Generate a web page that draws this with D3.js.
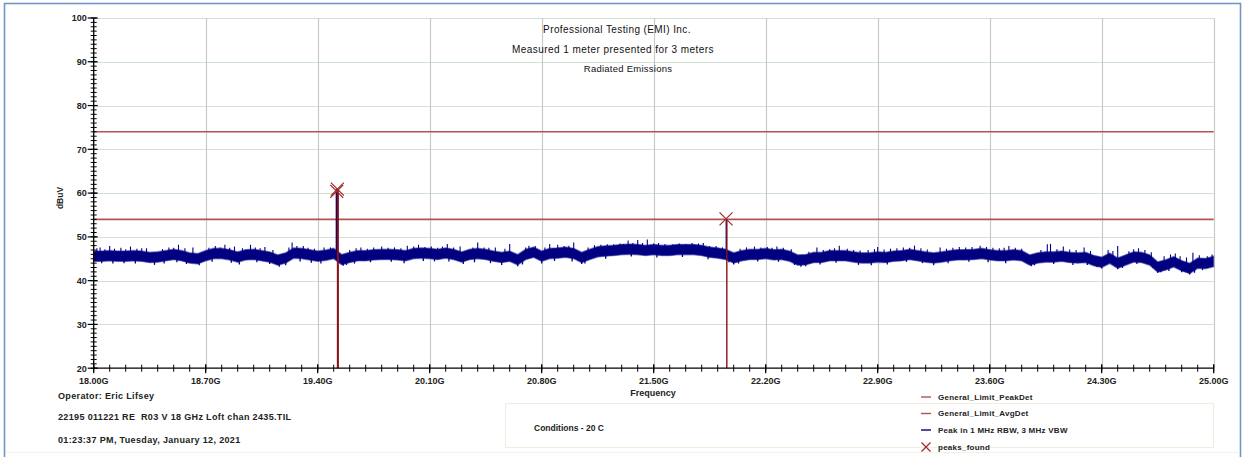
<!DOCTYPE html>
<html>
<head>
<meta charset="utf-8">
<script src="https://cdn.jsdelivr.net/npm/d3@7"></script>
<style>
  html, body { margin: 0; padding: 0; background: #ffffff; }
  svg { display: block; font-family: "Liberation Sans", Arial, sans-serif; }
</style>
</head>
<body>
<svg id="chart" width="1246" height="457"></svg>
<script>
// ---- Sweep data (dBuV) ----
const sweepStartGHz = 18.0;
const sweepStepGHz = 0.05;
// mean level of the measured trace every 50 MHz, 18.00 .. 25.00 GHz
const traceLevel = [
  45.6,45.6,45.7,45.6,45.6,45.7,45.6,45.3,45.4,45.7,46.0,45.7,45.2,45.0,45.7,46.2,46.2,45.9,45.4,45.9,
  46.0,45.7,45.4,44.7,45.2,46.3,46.2,45.9,45.6,45.8,46.2,44.8,45.3,45.7,45.7,45.9,46.0,46.0,45.9,45.7,
  46.2,46.3,46.2,46.0,46.3,46.0,45.4,46.0,46.2,46.0,45.6,45.3,45.6,44.8,46.0,46.5,45.6,46.2,46.3,46.5,
  46.2,45.3,46.0,46.6,46.8,46.9,47.1,47.2,47.1,46.9,47.1,46.9,46.9,47.1,47.1,47.1,46.9,46.5,46.3,46.0,
  45.2,45.7,46.0,46.0,46.2,45.9,46.0,45.6,44.7,44.8,45.3,45.3,45.7,45.7,45.7,45.4,45.2,45.2,45.4,45.3,
  45.6,45.7,46.0,45.7,45.4,45.2,45.4,45.7,45.9,45.9,46.0,46.2,45.9,45.7,45.7,45.9,45.7,44.7,45.2,45.4,
  45.4,45.6,45.3,45.2,45.3,44.6,44.2,45.1,44.0,44.7,45.4,45.3,44.7,43.1,43.6,44.3,43.4,42.8,44.0,43.9,
  44.4
];
// half height of the dense noise band around the mean level (dB)
const noiseHalfBand = 1.2;
// noise excursions above the band [GHz, dBuV]
const spikesUp = [
  [18.02,47.4],[18.04,47.6],[18.07,47.2],[18.10,47.9],[18.13,47.3],[18.17,47.5],[18.20,47.2],[18.23,47.8],
  [18.27,47.3],[18.30,47.4],[18.33,47.4],[18.43,47.2],[18.47,47.6],[18.50,47.5],[18.53,48.2],[18.57,47.4],
  [18.62,47.6],[18.72,47.5],[18.76,47.9],[18.79,47.6],[18.82,48.2],[18.85,47.5],[18.88,47.8],[18.93,47.4],
  [18.98,48.2],[19.01,47.6],[19.04,47.4],[19.07,47.7],[19.12,47.0],[19.22,47.6],[19.24,48.7],[19.27,47.9],
  [19.31,47.9],[19.34,47.5],[19.38,47.3],[19.44,47.6],[19.48,47.6],[19.60,47.0],[19.64,47.4],[19.67,47.6],
  [19.71,47.3],[19.75,47.6],[19.80,47.8],[19.84,47.5],[19.88,47.6],[19.92,47.4],[19.96,48.0],[20.00,47.8],
  [20.03,48.2],[20.07,47.7],[20.11,47.8],[20.15,47.5],[20.18,47.8],[20.21,48.4],[20.25,47.6],[20.29,47.8],
  [20.37,47.6],[20.40,48.7],[20.44,47.6],[20.47,47.5],[20.51,47.6],[20.57,47.3],[20.60,48.4],[20.70,47.6],
  [20.72,48.0],[20.76,47.9],[20.82,47.6],[20.85,48.4],[20.90,48.2],[20.94,47.9],[20.97,48.0],[21.00,48.7],
  [21.09,47.6],[21.13,48.1],[21.17,48.2],[21.21,48.3],[21.25,48.3],[21.29,48.5],[21.31,48.4],[21.34,49.2],
  [21.37,48.6],[21.40,49.3],[21.43,48.6],[21.46,49.4],[21.50,48.5],[21.53,48.6],[21.57,48.4],[21.62,48.3],
  [21.66,48.5],[21.70,48.4],[21.74,48.6],[21.78,48.5],[21.81,48.6],[21.85,47.9],[21.89,47.9],[21.93,47.6],
  [22.04,47.3],[22.08,47.6],[22.13,47.8],[22.17,47.6],[22.21,47.7],[22.24,47.5],[22.27,47.8],[22.31,47.5],
  [22.36,47.2],[22.47,46.6],[22.52,47.6],[22.56,47.0],[22.60,47.2],[22.63,47.4],[22.66,48.0],[22.71,47.3],
  [22.75,47.0],[22.79,46.9],[22.84,47.0],[22.88,47.2],[22.90,47.7],[22.94,47.1],[22.98,47.3],[23.02,47.4],
  [23.06,47.6],[23.10,47.5],[23.13,48.0],[23.17,47.4],[23.21,47.1],[23.29,47.6],[23.33,47.3],[23.37,47.5],
  [23.41,47.7],[23.45,47.6],[23.49,47.7],[23.54,48.0],[23.58,47.7],[23.62,47.5],[23.66,47.4],[23.69,47.5],
  [23.72,47.9],[23.76,47.5],[23.80,47.3],[23.92,47.0],[23.96,48.3],[23.98,48.4],[24.02,47.2],[24.06,47.8],
  [24.10,47.1],[24.14,47.0],[24.19,47.6],[24.23,46.8],[24.34,47.0],[24.37,46.8],[24.40,47.9],[24.47,46.7],
  [24.50,47.2],[24.53,47.4],[24.57,47.0],[24.61,46.5],[24.69,45.6],[24.73,46.0],[24.76,46.2],[24.79,45.6],
  [24.83,45.3],[24.87,46.4],[24.91,45.8],[24.96,45.6],[24.99,46.0]
];
// noise excursions below the band [GHz, dBuV]
const spikesDown = [
  [18.05,44.0],[18.12,43.9],[18.19,44.0],[18.26,43.9],[18.38,43.6],[18.44,43.9],[18.52,44.2],[18.58,43.8],
  [18.66,43.5],[18.74,44.3],[18.86,44.1],[18.91,43.7],[19.02,44.2],[19.10,43.8],[19.16,43.2],[19.20,43.5],
  [19.29,44.4],[19.36,44.1],[19.42,43.9],[19.56,43.4],[19.58,43.6],[19.63,43.9],[19.73,44.2],[19.86,44.3],
  [19.94,44.0],[20.06,44.5],[20.13,44.4],[20.22,44.4],[20.31,43.8],[20.38,44.2],[20.48,44.0],[20.55,43.6],
  [20.65,43.3],[20.68,43.7],[20.80,43.9],[20.88,44.5],[20.99,44.4],[21.05,43.8],[21.07,43.9],[21.20,45.0],
  [21.36,45.5],[21.52,45.3],[21.68,45.4],[21.84,44.9],[21.97,44.2],[22.00,43.7],[22.03,43.9],[22.15,44.4],
  [22.28,44.3],[22.38,43.6],[22.42,43.2],[22.45,43.3],[22.54,43.7],[22.64,44.1],[22.78,43.6],[22.86,43.5],
  [22.96,43.7],[23.08,44.3],[23.18,44.0],[23.25,43.5],[23.34,44.0],[23.47,44.3],[23.59,44.2],[23.70,44.0],
  [23.86,43.3],[23.88,43.5],[24.00,43.8],[24.12,43.6],[24.21,43.6],[24.27,43.1],[24.30,42.8],[24.40,42.6],
  [24.43,42.9],[24.52,43.8],[24.62,42.9],[24.65,41.8],[24.67,41.9],[24.72,42.2],[24.80,41.9],[24.85,41.4],
  [24.88,41.8],[24.93,42.4]
];
// emissions rising out of the noise floor [GHz, dBuV]
const emissions = [[19.517, 61.0], [21.954, 54.1]];
// peaks reported by the peak search [GHz, dBuV]
const peaksFound = [[19.519, 60.4], [19.523, 60.9], [21.952, 54.1]];
// limit lines (dBuV)
const limitPeakDet = 74;
const limitAvgDet = 54;

// ---- Axes ----
const freqTicks = [18.00, 18.70, 19.40, 20.10, 20.80, 21.50, 22.20, 22.90, 23.60, 24.30, 25.00];
const levelTicks = [20, 30, 40, 50, 60, 70, 80, 90, 100];

const titleLines = ["Professional Testing (EMI) Inc.", "Measured 1 meter presented for 3 meters", "Radiated Emissions"];
const infoLines = ["Operator: Eric Lifsey", "22195 011221 RE  R03 V 18 GHz Loft chan 2435.TIL", "01:23:37 PM, Tuesday, January 12, 2021"];
const conditionsText = "Conditions - 20 C";
const legendItems = [
  { name: "General_Limit_PeakDet", kind: "line", color: "#b05454" },
  { name: "General_Limit_AvgDet", kind: "line", color: "#b05454" },
  { name: "Peak in 1 MHz RBW, 3 MHz VBW", kind: "line", color: "#000080" },
  { name: "peaks_found", kind: "cross", color: "#a02828" }
];

const svg = d3.select("#chart");
const x = d3.scaleLinear().domain([18, 25]).range([93.7, 1213.7]);
const y = d3.scaleLinear().domain([20, 100]).range([368.2, 18]);

// outer frame
svg.append("rect").attr("x", 4.5).attr("y", 3.5).attr("width", 1236).attr("height", 470)
  .attr("fill", "none").attr("stroke", "#7096cc").attr("stroke-width", 1.6);
svg.append("line").attr("x1", 6).attr("x2", 1240).attr("y1", 452.5).attr("y2", 452.5)
  .attr("stroke", "#f7efe2").attr("stroke-width", 1);

// grid
const grid = svg.append("g");
grid.selectAll("line.h").data(levelTicks.slice(1)).join("line")
  .attr("x1", x(18)).attr("x2", x(25))
  .attr("y1", d => Math.round(y(d)) + 0.5).attr("y2", d => Math.round(y(d)) + 0.5)
  .attr("stroke", "#cfe3cf").attr("stroke-width", 1.2);
grid.selectAll("line.v").data(freqTicks.slice(1)).join("line")
  .attr("x1", d => Math.round(x(d)) + 0.5).attr("x2", d => Math.round(x(d)) + 0.5)
  .attr("y1", y(100)).attr("y2", y(20))
  .attr("stroke", "#c9c9c9").attr("stroke-width", 1.2);

// limit lines
svg.selectAll("line.limit").data([limitPeakDet, limitAvgDet]).join("line")
  .attr("x1", x(18)).attr("x2", x(25))
  .attr("y1", d => y(d)).attr("y2", d => y(d))
  .attr("stroke", "#b05454").attr("stroke-width", 1.6);

// measured trace: dense noise band plus individual excursions
const traceData = traceLevel.map((v, i) => [sweepStartGHz + i * sweepStepGHz, v]);
const levelAt = d3.scaleLinear().domain(traceData.map(d => d[0])).range(traceData.map(d => d[1]));
const band = d3.area()
  .x(d => x(d[0]))
  .y0(d => y(d[1] - noiseHalfBand))
  .y1(d => y(d[1] + noiseHalfBand));
svg.append("path").datum(traceData).attr("d", band)
  .attr("fill", "#000080").attr("stroke", "#3a3aa6").attr("stroke-width", 1.3).attr("stroke-opacity", 0.55);
svg.selectAll("line.up").data(spikesUp).join("line")
  .attr("x1", d => x(d[0])).attr("x2", d => x(d[0]))
  .attr("y1", d => y(levelAt(d[0]))).attr("y2", d => y(d[1]))
  .attr("stroke", "#000080").attr("stroke-width", 1.1);
svg.selectAll("line.down").data(spikesDown).join("line")
  .attr("x1", d => x(d[0])).attr("x2", d => x(d[0]))
  .attr("y1", d => y(levelAt(d[0]))).attr("y2", d => y(d[1]))
  .attr("stroke", "#000080").attr("stroke-width", 1.3);
svg.selectAll("line.emission").data(emissions).join("line")
  .attr("x1", d => x(d[0])).attr("x2", d => x(d[0]))
  .attr("y1", d => y(levelAt(d[0]))).attr("y2", d => y(d[1]))
  .attr("stroke", "#000080").attr("stroke-width", 1.5);

// peak drop lines and markers
svg.selectAll("line.stem").data(peaksFound).join("line")
  .attr("x1", d => x(d[0]) + 0.8).attr("x2", d => x(d[0]) + 0.8)
  .attr("y1", d => y(d[1])).attr("y2", y(20))
  .attr("stroke", "#8c1212").attr("stroke-width", 1.4);
const crossPath = s => `M${-s},${-s}L${s},${s}M${-s},${s}L${s},${-s}`;
svg.selectAll("path.peak").data(peaksFound).join("path")
  .attr("transform", d => `translate(${x(d[0])},${y(d[1])})`)
  .attr("d", crossPath(6.5))
  .attr("fill", "none").attr("stroke", "#a02828").attr("stroke-width", 1.2);

// y axis
const yAxis = svg.append("g").attr("transform", `translate(${x(18)},0)`);
yAxis.append("line").attr("y1", y(100)).attr("y2", y(20)).attr("stroke", "#000").attr("stroke-width", 1.3);
yAxis.selectAll("line.minor").data(d3.range(20, 101, 1)).join("line")
  .attr("x1", -3).attr("x2", 3).attr("y1", d => y(d)).attr("y2", d => y(d))
  .attr("stroke", "#000").attr("stroke-width", 1);
yAxis.selectAll("line.major").data(levelTicks).join("line")
  .attr("x1", -6).attr("x2", 4).attr("y1", d => y(d)).attr("y2", d => y(d))
  .attr("stroke", "#000").attr("stroke-width", 1.2);
yAxis.selectAll("text").data(levelTicks).join("text")
  .attr("x", -7).attr("y", d => y(d) + 3.3).attr("text-anchor", "end")
  .attr("font-size", 9).attr("font-weight", "bold").attr("fill", "#222")
  .text(d => d);

// x axis
const xAxis = svg.append("g").attr("transform", `translate(0,${y(20)})`);
xAxis.append("line").attr("x1", x(18)).attr("x2", x(25)).attr("stroke", "#000").attr("stroke-width", 1.3);
xAxis.selectAll("line.minor").data(d3.range(0, 71, 1)).join("line")
  .attr("x1", d => x(18 + d / 10)).attr("x2", d => x(18 + d / 10))
  .attr("y1", -3.5).attr("y2", 3.5).attr("stroke", "#000").attr("stroke-width", 1);
xAxis.selectAll("line.major").data(freqTicks).join("line")
  .attr("x1", d => x(d)).attr("x2", d => x(d))
  .attr("y1", -4).attr("y2", 5).attr("stroke", "#000").attr("stroke-width", 1.2);
xAxis.selectAll("text").data(freqTicks).join("text")
  .attr("x", d => x(d)).attr("y", 15.5).attr("text-anchor", "middle")
  .attr("font-size", 9).attr("font-weight", "bold").attr("fill", "#222")
  .text(d => d.toFixed(2) + "G");

// axis titles
svg.append("text").attr("x", 653).attr("y", 396).attr("text-anchor", "middle")
  .attr("font-size", 9).attr("font-weight", "bold").attr("fill", "#222").text("Frequency");
svg.append("text").attr("transform", "translate(63,198) rotate(-90)").attr("text-anchor", "middle")
  .attr("font-size", 8.5).attr("font-weight", "bold").attr("fill", "#222").text("dBuV");

// chart titles
svg.selectAll("text.title").data(titleLines).join("text")
  .attr("x", (d, i) => [617, 613, 628][i]).attr("y", (d, i) => [33, 53, 72][i])
  .attr("text-anchor", "middle").attr("font-size", (d, i) => [10, 10, 9.5][i])
  .attr("letter-spacing", (d, i) => [0.4, 0.45, 0.25][i]).attr("fill", "#111")
  .text(d => d);

// test information
svg.selectAll("text.info").data(infoLines).join("text")
  .attr("x", 58).attr("y", (d, i) => [399, 420, 443][i])
  .attr("font-size", 9).attr("font-weight", "bold").attr("letter-spacing", 0.35).attr("fill", "#222")
  .style("white-space", "pre")
  .text(d => d);

// conditions box
svg.append("rect").attr("x", 505.5).attr("y", 403.5).attr("width", 708).attr("height", 44)
  .attr("fill", "none").attr("stroke", "#f4ecdf").attr("stroke-width", 1);
svg.append("text").attr("x", 534).attr("y", 430.5).attr("font-size", 8.5).attr("font-weight", "bold")
  .attr("fill", "#222").text(conditionsText);

// legend
const legend = svg.append("g").attr("transform", "translate(921,0)");
const legendRows = [397, 413.5, 430, 447];
legendItems.forEach((item, i) => {
  const yy = legendRows[i];
  if (item.kind === "line") {
    legend.append("line").attr("x1", 0).attr("x2", 10).attr("y1", yy).attr("y2", yy)
      .attr("stroke", item.color).attr("stroke-width", 1.4);
  } else {
    legend.append("path").attr("transform", `translate(5,${yy})`).attr("d", crossPath(4.5))
      .attr("fill", "none").attr("stroke", item.color).attr("stroke-width", 1.2);
  }
  legend.append("text").attr("x", 17).attr("y", yy + 2.8).attr("font-size", 8)
    .attr("font-weight", "bold").attr("letter-spacing", 0.25).attr("fill", "#222").text(item.name);
});
</script>
</body>
</html>
